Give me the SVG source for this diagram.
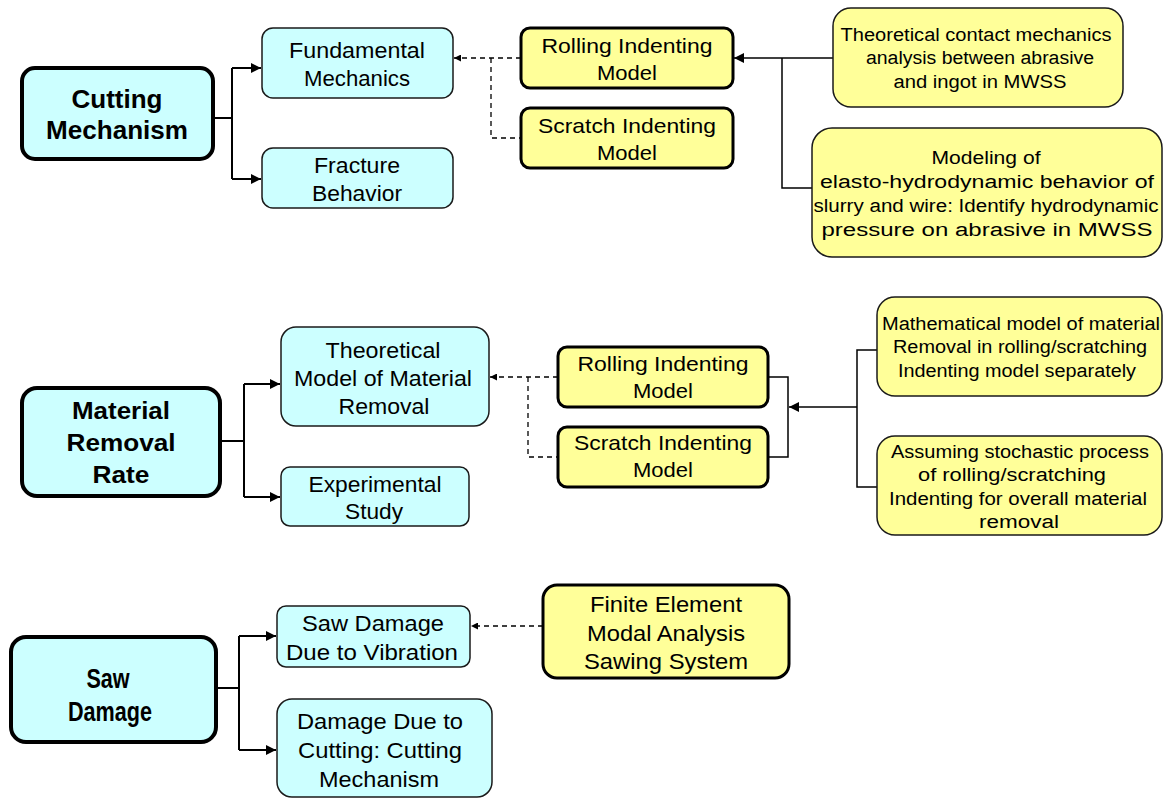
<svg xmlns="http://www.w3.org/2000/svg" width="1171" height="802" viewBox="0 0 1171 802">
<style>
.c{fill:#ccffff;stroke:#1a1a1a;stroke-width:1.5}
.cm{fill:#ccffff;stroke:#000;stroke-width:4}
.y{fill:#ffff99;stroke:#1a1a1a;stroke-width:1.5}
.ym{fill:#ffff99;stroke:#000;stroke-width:3}
text{font-family:"Liberation Sans",Arial,sans-serif;fill:#000;text-anchor:middle}
.b{font-weight:bold}
.ln{fill:none;stroke:#000;stroke-width:1.5}
.lt{fill:none;stroke:#000;stroke-width:2}
.ds{fill:none;stroke:#000;stroke-width:1.3;stroke-dasharray:5,4}
</style>
<defs>
<marker id="ah" viewBox="0 0 10 10" refX="10" refY="5" markerWidth="7" markerHeight="7" markerUnits="userSpaceOnUse" orient="auto"><path d="M0,0L10,5L0,10z" fill="#000"/></marker>
<marker id="ahl" viewBox="0 0 10 10" refX="10" refY="5" markerWidth="10" markerHeight="10" markerUnits="userSpaceOnUse" orient="auto"><path d="M0,0L10,5L0,10z" fill="#000"/></marker>
</defs>
<g id="connectors">
<path class="lt" d="M213,118H232M232,68V179"/>
<path class="lt" d="M232,68H261" marker-end="url(#ahl)"/>
<path class="lt" d="M232,179H261" marker-end="url(#ahl)"/>
<path class="ds" d="M521,58H454" marker-end="url(#ah)"/>
<path class="ds" d="M491,58V138H521"/>
<path class="ln" d="M833,58H734" marker-end="url(#ahl)"/>
<path class="ln" d="M782,58V188H812"/>
<path class="lt" d="M220,441H244M244,384V497"/>
<path class="lt" d="M244,384H280" marker-end="url(#ahl)"/>
<path class="lt" d="M244,497H280" marker-end="url(#ahl)"/>
<path class="ds" d="M558,377H490" marker-end="url(#ah)"/>
<path class="ds" d="M528,377V457H558"/>
<path class="ln" d="M768,377H788V457H768"/>
<path class="ln" d="M857,407H789" marker-end="url(#ahl)"/>
<path class="ln" d="M877,350H857V487H877"/>
<path class="lt" d="M216,688H239M239,636V750"/>
<path class="lt" d="M239,636H276" marker-end="url(#ahl)"/>
<path class="lt" d="M239,750H276" marker-end="url(#ahl)"/>
<path class="ds" d="M543,626H471" marker-end="url(#ah)"/>
</g>
<g id="cutting-mechanism"><rect class="cm" x="22" y="68" width="191" height="91" rx="13"/>
<text class="b" x="117" y="108" font-size="26" textLength="91" lengthAdjust="spacingAndGlyphs">Cutting</text>
<text class="b" x="117" y="139" font-size="26" textLength="142" lengthAdjust="spacingAndGlyphs">Mechanism</text></g>
<g id="fundamental-mechanics"><rect class="c" x="262" y="28" width="191" height="70" rx="11"/>
<text x="357" y="58" font-size="22" textLength="136" lengthAdjust="spacingAndGlyphs">Fundamental</text>
<text x="357" y="86" font-size="22" textLength="106" lengthAdjust="spacingAndGlyphs">Mechanics</text></g>
<g id="fracture-behavior"><rect class="c" x="262" y="148" width="191" height="60" rx="11"/>
<text x="357" y="173" font-size="22" textLength="86" lengthAdjust="spacingAndGlyphs">Fracture</text>
<text x="357" y="201" font-size="22" textLength="90" lengthAdjust="spacingAndGlyphs">Behavior</text></g>
<g id="rolling-1"><rect class="ym" x="521" y="28" width="212" height="60" rx="9"/>
<text x="627" y="53" font-size="21" textLength="171" lengthAdjust="spacingAndGlyphs">Rolling Indenting</text>
<text x="627" y="80" font-size="21" textLength="60" lengthAdjust="spacingAndGlyphs">Model</text></g>
<g id="scratch-1"><rect class="ym" x="521" y="108" width="212" height="60" rx="9"/>
<text x="627" y="133" font-size="21" textLength="178" lengthAdjust="spacingAndGlyphs">Scratch Indenting</text>
<text x="627" y="160" font-size="21" textLength="60" lengthAdjust="spacingAndGlyphs">Model</text></g>
<g id="contact-analysis"><rect class="y" x="833" y="8" width="290" height="99" rx="18"/>
<text x="976" y="41" font-size="18" textLength="271" lengthAdjust="spacingAndGlyphs">Theoretical contact mechanics</text>
<text x="980" y="64" font-size="18" textLength="228" lengthAdjust="spacingAndGlyphs">analysis between abrasive</text>
<text x="980" y="88" font-size="18" textLength="173" lengthAdjust="spacingAndGlyphs">and ingot in MWSS</text></g>
<g id="ehd-model"><rect class="y" x="812" y="128" width="350" height="129" rx="20"/>
<text x="986" y="164" font-size="18" textLength="109" lengthAdjust="spacingAndGlyphs">Modeling of</text>
<text x="987" y="188" font-size="18" textLength="334" lengthAdjust="spacingAndGlyphs">elasto-hydrodynamic behavior of</text>
<text x="986" y="212" font-size="18" textLength="345" lengthAdjust="spacingAndGlyphs">slurry and wire: Identify hydrodynamic</text>
<text x="987" y="236" font-size="18" textLength="331" lengthAdjust="spacingAndGlyphs">pressure on abrasive in MWSS</text></g>
<g id="material-removal-rate"><rect class="cm" x="22" y="388" width="198" height="108" rx="15"/>
<text class="b" x="121" y="419" font-size="24" textLength="98" lengthAdjust="spacingAndGlyphs">Material</text>
<text class="b" x="121" y="451" font-size="24" textLength="109" lengthAdjust="spacingAndGlyphs">Removal</text>
<text class="b" x="121" y="483" font-size="24" textLength="57" lengthAdjust="spacingAndGlyphs">Rate</text></g>
<g id="theoretical-model"><rect class="c" x="281" y="327" width="208" height="99" rx="15"/>
<text x="383" y="358" font-size="22" textLength="115" lengthAdjust="spacingAndGlyphs">Theoretical</text>
<text x="383" y="386" font-size="22" textLength="178" lengthAdjust="spacingAndGlyphs">Model of Material</text>
<text x="384" y="414" font-size="22" textLength="91" lengthAdjust="spacingAndGlyphs">Removal</text></g>
<g id="experimental-study"><rect class="c" x="281" y="467" width="188" height="59" rx="9"/>
<text x="375" y="492" font-size="22" textLength="133" lengthAdjust="spacingAndGlyphs">Experimental</text>
<text x="374" y="519" font-size="22" textLength="58" lengthAdjust="spacingAndGlyphs">Study</text></g>
<g id="rolling-2"><rect class="ym" x="558" y="347" width="210" height="60" rx="9"/>
<text x="663" y="371" font-size="21" textLength="171" lengthAdjust="spacingAndGlyphs">Rolling Indenting</text>
<text x="663" y="398" font-size="21" textLength="60" lengthAdjust="spacingAndGlyphs">Model</text></g>
<g id="scratch-2"><rect class="ym" x="558" y="427" width="210" height="60" rx="9"/>
<text x="663" y="450" font-size="21" textLength="178" lengthAdjust="spacingAndGlyphs">Scratch Indenting</text>
<text x="663" y="477" font-size="21" textLength="60" lengthAdjust="spacingAndGlyphs">Model</text></g>
<g id="math-model"><rect class="y" x="877" y="297" width="285" height="99" rx="18"/>
<text x="1021" y="330" font-size="18" textLength="278" lengthAdjust="spacingAndGlyphs">Mathematical model of material</text>
<text x="1020" y="353" font-size="18" textLength="254" lengthAdjust="spacingAndGlyphs">Removal in rolling/scratching</text>
<text x="1017" y="377" font-size="18" textLength="238" lengthAdjust="spacingAndGlyphs">Indenting model separately</text></g>
<g id="stochastic-process"><rect class="y" x="877" y="436" width="285" height="99" rx="18"/>
<text x="1020" y="458" font-size="18" textLength="258" lengthAdjust="spacingAndGlyphs">Assuming stochastic process</text>
<text x="1012" y="481" font-size="18" textLength="188" lengthAdjust="spacingAndGlyphs">of rolling/scratching</text>
<text x="1018" y="505" font-size="18" textLength="258" lengthAdjust="spacingAndGlyphs">Indenting for overall material</text>
<text x="1019" y="528" font-size="18" textLength="80" lengthAdjust="spacingAndGlyphs">removal</text></g>
<g id="saw-damage"><rect class="cm" x="11" y="637" width="205" height="105" rx="15"/>
<text class="b" transform="translate(108,688) scale(0.8,1)" font-size="27">Saw</text>
<text class="b" transform="translate(110,721) scale(0.8,1)" font-size="27">Damage</text></g>
<g id="damage-vibration"><rect class="c" x="277" y="606" width="193" height="61" rx="9"/>
<text x="373" y="631" font-size="22" textLength="142" lengthAdjust="spacingAndGlyphs">Saw Damage</text>
<text x="372" y="660" font-size="22" textLength="172" lengthAdjust="spacingAndGlyphs">Due to Vibration</text></g>
<g id="damage-cutting"><rect class="c" x="277" y="699" width="215" height="98" rx="15"/>
<text x="380" y="729" font-size="22" textLength="166" lengthAdjust="spacingAndGlyphs">Damage Due to</text>
<text x="380" y="758" font-size="22" textLength="164" lengthAdjust="spacingAndGlyphs">Cutting: Cutting</text>
<text x="379" y="787" font-size="22" textLength="120" lengthAdjust="spacingAndGlyphs">Mechanism</text></g>
<g id="finite-element"><rect class="ym" x="543" y="585" width="246" height="93" rx="14"/>
<text x="666" y="612" font-size="22" textLength="152" lengthAdjust="spacingAndGlyphs">Finite Element</text>
<text x="666" y="641" font-size="22" textLength="158" lengthAdjust="spacingAndGlyphs">Modal Analysis</text>
<text x="666" y="669" font-size="22" textLength="164" lengthAdjust="spacingAndGlyphs">Sawing System</text></g>
</svg>
